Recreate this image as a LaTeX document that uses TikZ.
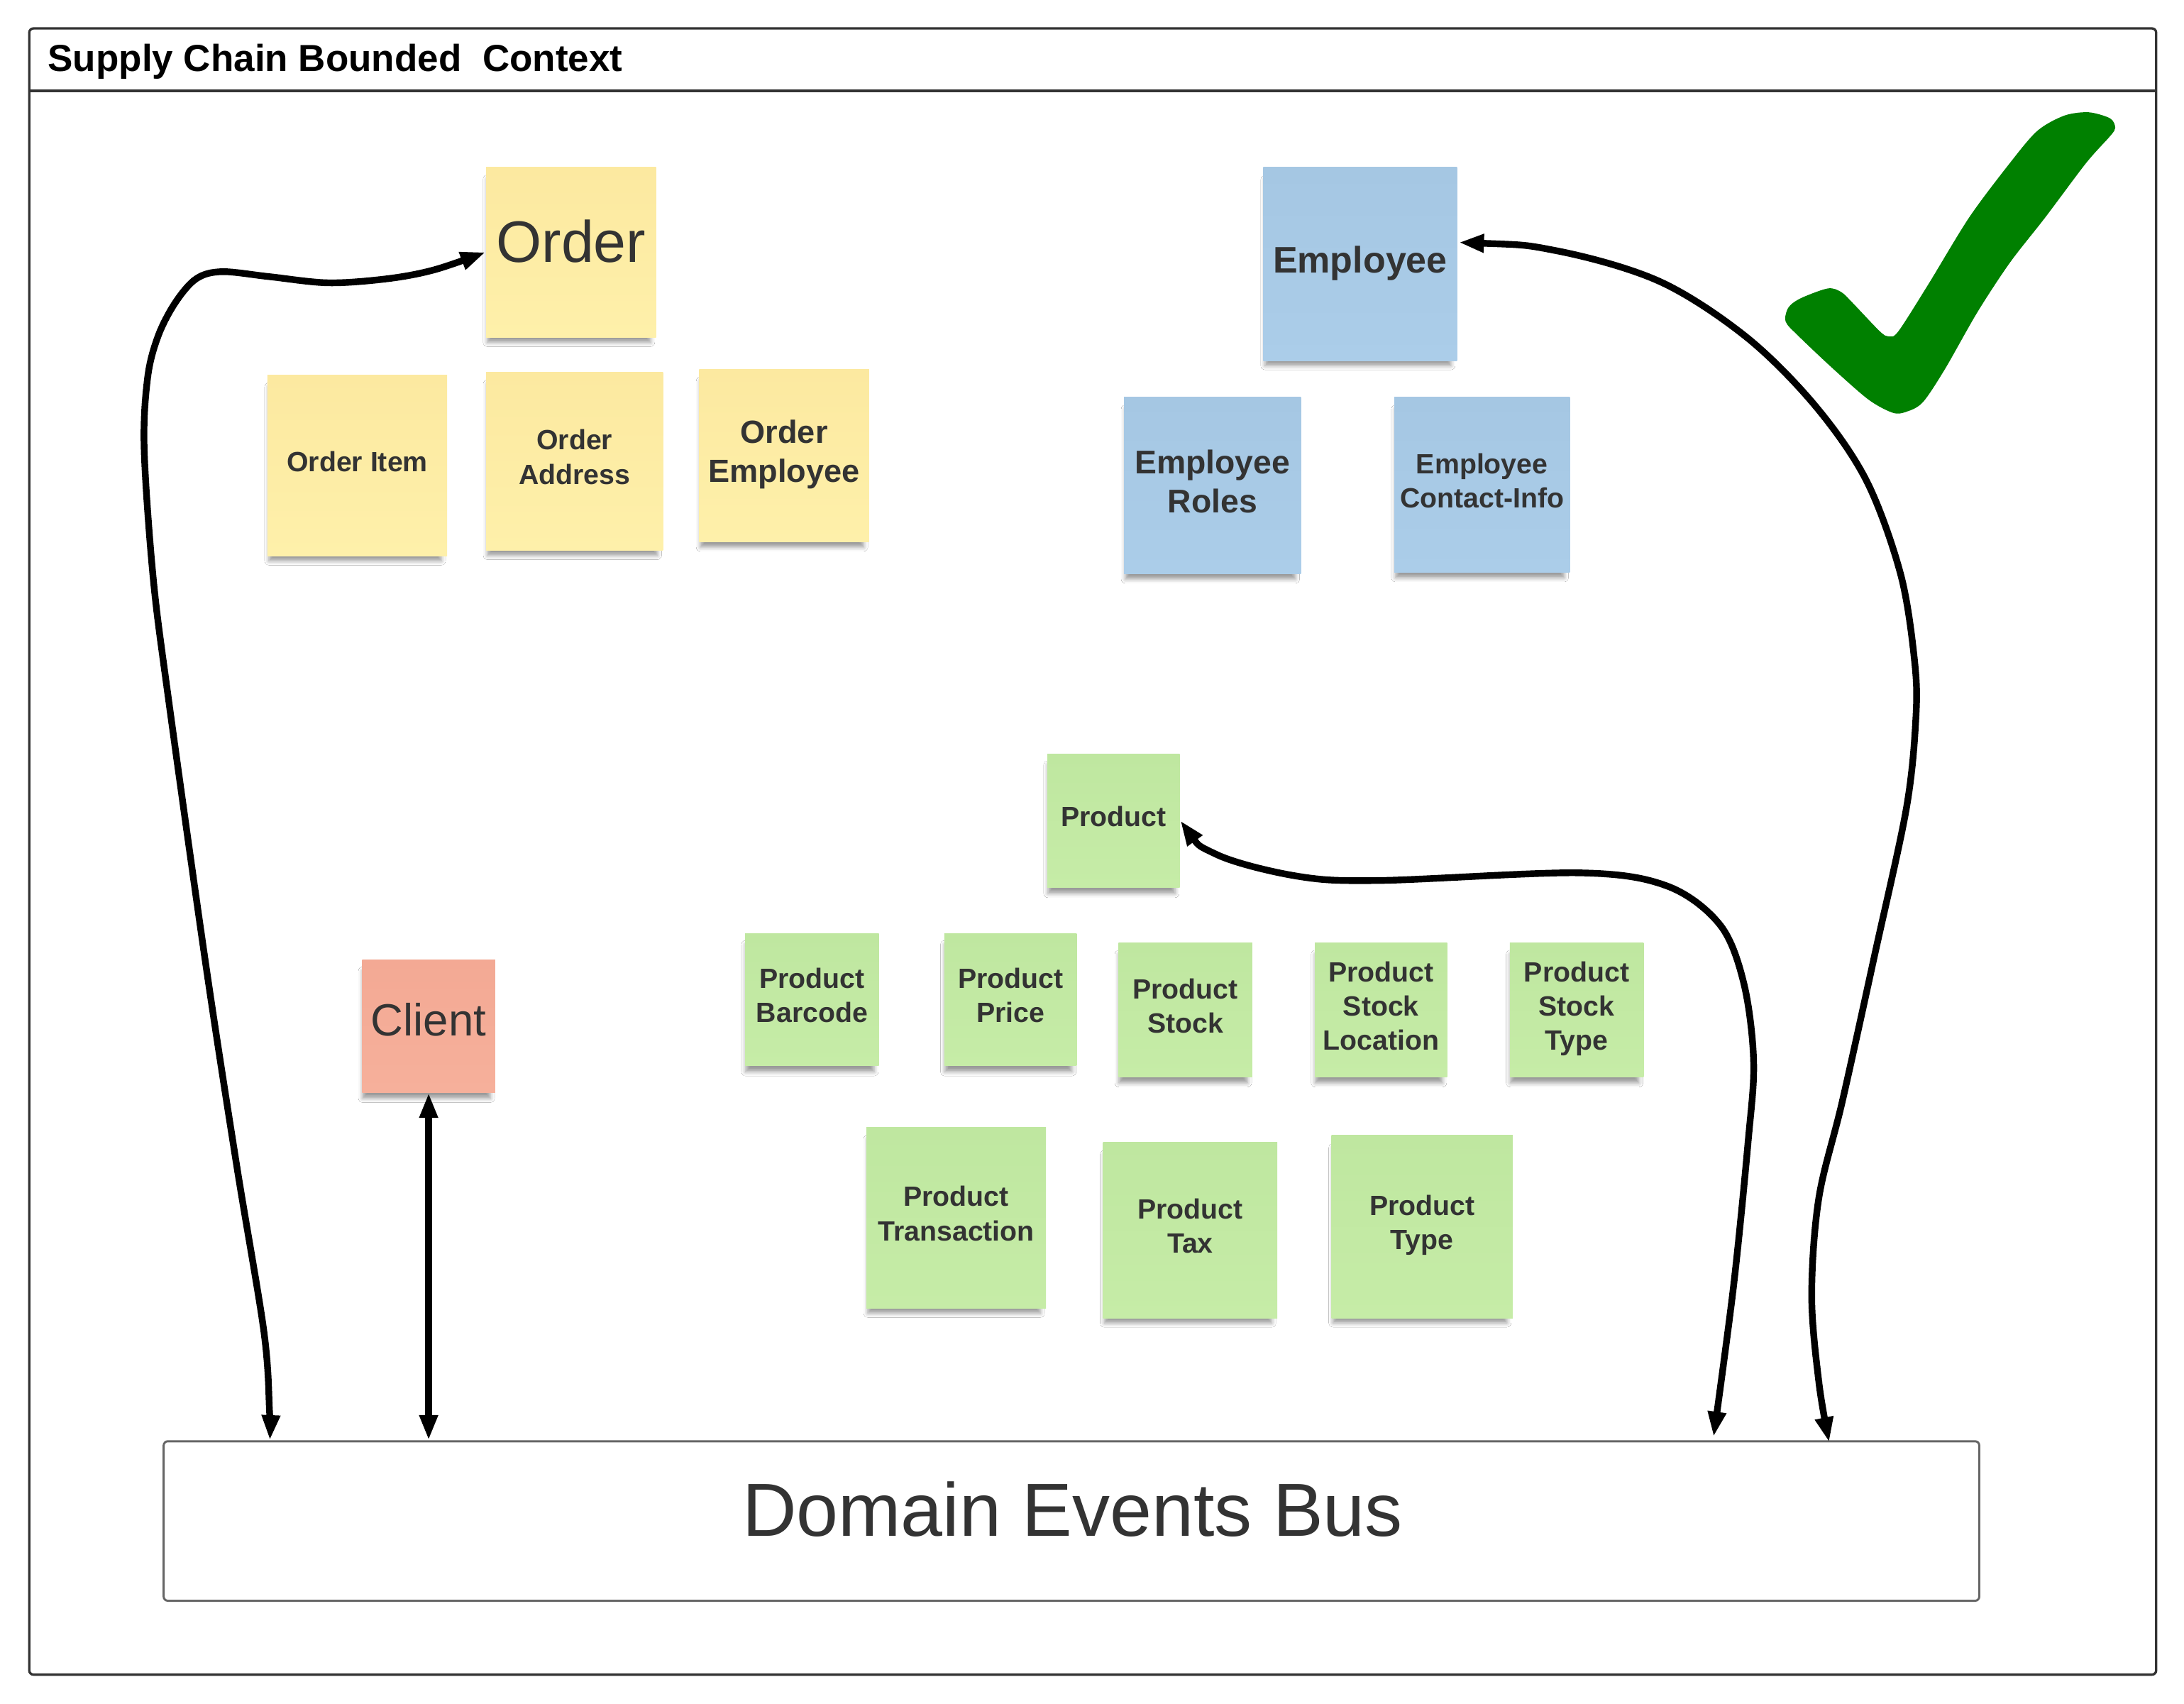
\documentclass[tikz,border=0pt]{standalone}
\usepackage{fontspec}
\setmainfont{Liberation Sans}
\usetikzlibrary{arrows.meta,calc,shadows,shadows.blur}
\definecolor{stickyY}{RGB}{254,240,170}
\definecolor{stickyYt}{RGB}{252,233,160}
\definecolor{stickyB}{RGB}{171,205,233}
\definecolor{stickyBt}{RGB}{165,199,227}
\definecolor{stickyG}{RGB}{198,236,167}
\definecolor{stickyGt}{RGB}{191,231,160}
\definecolor{stickyR}{RGB}{246,176,155}
\definecolor{stickyRt}{RGB}{243,169,148}
\definecolor{txt}{RGB}{51,51,51}
\definecolor{frameC}{RGB}{51,51,51}
\definecolor{busC}{RGB}{102,102,102}
\definecolor{checkG}{RGB}{0,128,0}
\newcommand{\fs}[2]{\fontsize{#1pt}{#2pt}\selectfont}
\tikzset{
  sticky/.style={rectangle, inner sep=0pt, align=center, text=txt, text depth=3pt,
    blur shadow={shadow scale=0.96, shadow xshift=-0.8pt, shadow yshift=-3.2pt,
      shadow blur radius=1.6pt, shadow opacity=40}},
  yel/.style={sticky, top color=stickyYt, bottom color=stickyY},
  blu/.style={sticky, top color=stickyBt, bottom color=stickyB},
  grn/.style={sticky, top color=stickyGt, bottom color=stickyG},
  red/.style={sticky, top color=stickyRt, bottom color=stickyR},
  conn/.style={line width=2.4pt, black,
    {Triangle[length=9pt,width=6.2pt]}-{Triangle[length=9pt,width=6.2pt]}},
  prodtxt/.style={font=\bfseries\fs{10}{12.3}}
}
\begin{document}
\begin{tikzpicture}[x=0.5pt,y=-0.5pt]
\useasboundingbox (0,0) rectangle (1568,1223.1);
\fill[white] (0,0) rectangle (1568,1223.1);

% frame
\draw[frameC, line width=0.85pt, rounded corners=1.5pt] (21,20.4) rectangle (1548,1202);
\draw[frameC, line width=0.85pt] (21,65.2) -- (1548,65.2);
\node[anchor=base west, inner sep=0pt, font=\bfseries\fs{13.5}{16}] (title) at (34,51) {Supply Chain Bounded\ \ Context};

% check mark
\fill[checkG] plot[smooth cycle, tension=0.5] coordinates {
 (1282,230.8) (1284,220.7) (1293,214) (1312.4,207) (1322,209.7) (1330,217.3)
 (1349.5,237.7) (1356,241.5) (1363,237.7) (1384.6,203.8) (1413.8,156) (1443,117)
 (1462.6,94) (1482,83) (1499.6,80.6) (1515,85) (1518.6,91.7) (1515,97.6)
 (1497.7,117) (1468.4,156) (1443,188.5) (1419.7,224) (1396.3,265) (1380.5,288.7)
 (1368.8,295.5) (1359,296.3) (1341.7,287) (1316.4,265) (1291,241)};

% order group
\node[yel, minimum width=61pt, minimum height=61pt, text depth=8pt, font=\fs{21}{24}] (order) at (410,181) {Order};
\node[yel, minimum width=64.5pt, minimum height=65pt, font=\bfseries\fs{10}{12.5}] (orderitem) at (256.5,334) {Order Item};
\node[yel, minimum width=63.5pt, minimum height=64pt, font=\bfseries\fs{10}{12.5}] (orderaddr) at (412.5,331) {Order\\Address};
\node[yel, minimum width=61pt, minimum height=62pt, font=\bfseries\fs{11.5}{14}] (orderemp) at (563,327) {Order\\Employee};

% employee group
\node[blu, minimum width=69.5pt, minimum height=69.5pt, font=\bfseries\fs{13.25}{15}] (employee) at (976.5,189.5) {Employee};
\node[blu, minimum width=63.5pt, minimum height=63.5pt, font=\bfseries\fs{11.8}{14}] (emproles) at (870.5,348.5) {Employee\\Roles};
\node[blu, minimum width=63pt, minimum height=63pt, font=\bfseries\fs{10}{12}] (empcontact) at (1064,348) {Employee\\Contact-Info};

% product group
\node[grn, minimum width=47.5pt, minimum height=48pt, prodtxt] (product) at (799.5,589) {Product};
\node[grn, minimum width=48pt, minimum height=47.5pt, prodtxt] (barcode) at (583,717.5) {Product\\Barcode};
\node[grn, minimum width=47.5pt, minimum height=47.5pt, prodtxt] (price) at (725.5,717.5) {Product\\Price};
\node[grn, minimum width=48pt, minimum height=48pt, prodtxt] (stock) at (851,725) {Product\\Stock};
\node[grn, minimum width=47.5pt, minimum height=48pt, prodtxt] (stockloc) at (991.5,725) {Product\\Stock\\Location};
\node[grn, minimum width=48pt, minimum height=48pt, prodtxt] (stocktype) at (1132,725) {Product\\Stock\\Type};
\node[grn, minimum width=64.5pt, minimum height=65pt, prodtxt] (transaction) at (686.5,874) {Product\\Transaction};
\node[grn, minimum width=62.5pt, minimum height=63pt, prodtxt] (tax) at (854.5,883) {Product\\Tax};
\node[grn, minimum width=65pt, minimum height=65.5pt, prodtxt] (ptype) at (1021,880.5) {Product\\Type};

% client
\node[red, minimum width=47.75pt, minimum height=47.5pt, text depth=5pt, font=\fs{16.2}{19}] (client) at (307.75,736.5) {Client};

% bus
\node[draw=busC, line width=0.75pt, rounded corners=1.5pt, fill=white, minimum width=651.75pt, minimum height=57.25pt, inner sep=0pt] (bus) at (769.25,1091.75) {};
\node[anchor=base, inner sep=0pt, text=txt, font=\fs{27}{32}] (bustext) at (770,1102.5) {Domain Events Bus};

% connector end points
\coordinate (busL) at ($(bus.north west)+(77,0)$);
\coordinate (busP) at ($(bus.north west)+(1113.5,-2.5)$);
\coordinate (busE) at ($(bus.north west)+(1196.5,1.5)$);
\coordinate (empE) at ($(employee.east)+(1,-15.5)$);

% connectors
\draw[conn] plot[smooth, tension=0.55] coordinates {
 (busL) (193.5,1013) (189.5,956) (170,837) (148,694) (121,502) (110,415)
 (103.5,322) (106,271) (113.6,241) (126,217) (141,200) (159.5,195)
 (193.6,198.6) (236,203) (278.6,200) (312,193.6) (order.west)};

\draw[conn] (client.south) -- (client.south |- bus.north);

\draw[conn] plot[smooth, tension=0.55] coordinates {
 (product.east) (873.6,613.4) (932,629) (990.5,632) (1133.8,626.5) (1197,636)
 (1235,664) (1252,706) (1259,762) (1255,820) (1244.6,923) (busP)};

\draw[conn] plot[smooth, tension=0.55] coordinates {
 (empE) (1117.6,180) (1191.5,202) (1253.5,241.7) (1303,291) (1340,345)
 (1364.5,412) (1374.5,474) (1375.5,515) (1368.7,580) (1346,685) (1322.8,790)
 (1305.8,860) (1300.7,930.5) (1306,993.4) (busE)};
\end{tikzpicture}
\end{document}
